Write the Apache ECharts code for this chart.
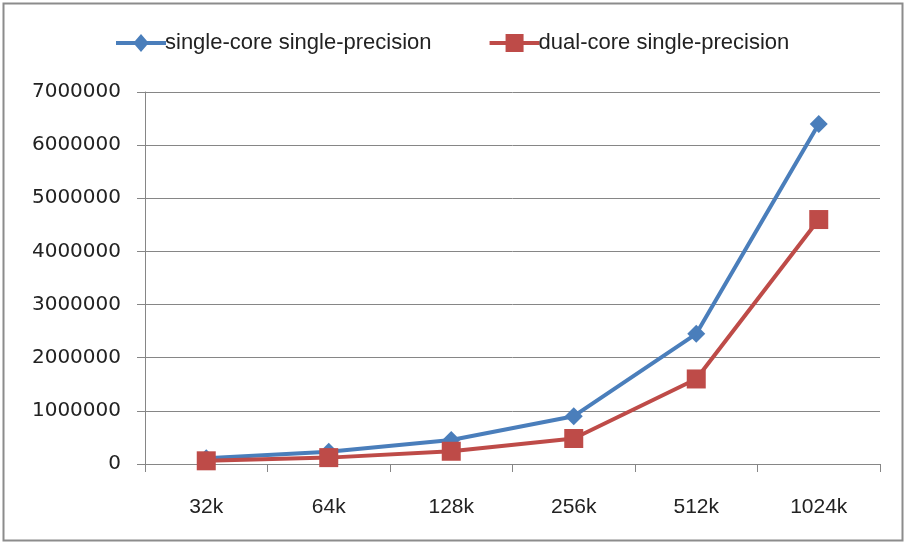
<!DOCTYPE html>
<html><head><meta charset="utf-8">
<script src="https://cdn.jsdelivr.net/npm/echarts@6/dist/echarts.min.js"></script>
<style>html,body{margin:0;padding:0;background:#fff}#c{width:906px;height:545px}</style>
</head><body><div id="c"></div>
<script>
const categories = ['32k','64k','128k','256k','512k','1024k'];
const singleCore = [110000, 230000, 450000, 900000, 2450000, 6400000];
const dualCore = [60000, 120000, 240000, 480000, 1600000, 4600000];
const seriesNames = ['single-core single-precision','dual-core single-precision'];

const chart = echarts.init(document.getElementById('c'));
const narrow = '"Liberation Sans Narrow","Liberation Sans",sans-serif';
const blue = '#4a7ebb', red = '#be4b48';
chart.setOption({
  animation:false,
  backgroundColor:'#fff',
  graphic:[{type:'rect',shape:{x:3.5,y:3.5,width:899,height:537},style:{fill:'none',stroke:'#8c8c8c',lineWidth:2}}],
  legend:{
    top:27, left:111, itemGap:58, itemWidth:50, itemHeight:18,
    textStyle:{fontFamily:narrow,fontSize:22,color:'#222',padding:[0,0,0,-6]},
    data:[
      {name:seriesNames[0],icon:'path://M0,7L19,7L25,0L31,7L50,7L50,11L31,11L25,18L19,11L0,11Z',itemStyle:{color:blue}},
      {name:seriesNames[1],icon:'path://M0,7L16,7L16,0L34,0L34,7L50,7L50,11L34,11L34,18L16,18L16,11L0,11Z',itemStyle:{color:red}}
    ]
  },
  grid:{left:145,right:26,top:92,bottom:81,containLabel:false},
  xAxis:{
    type:'category', data:categories, boundaryGap:true,
    axisLine:{lineStyle:{color:'#868686',width:1}},
    axisTick:{show:true,length:8,lineStyle:{color:'#868686'}},
    axisLabel:{fontFamily:narrow,fontSize:21,color:'#222',margin:33}
  },
  yAxis:{
    type:'value', min:0, max:7000000, interval:1000000,
    axisLine:{show:true,lineStyle:{color:'#868686',width:1}},
    axisTick:{show:true,length:8,lineStyle:{color:'#868686'}},
    splitLine:{lineStyle:{color:'#868686',width:1}},
    axisLabel:{fontFamily:'"DejaVu Sans",sans-serif',fontSize:20,color:'#222',margin:24,formatter:v=>String(v)}
  },
  series:[
    {name:seriesNames[0],type:'line',data:singleCore,symbol:'diamond',symbolSize:18,
     lineStyle:{width:4,color:blue},itemStyle:{color:blue}},
    {name:seriesNames[1],type:'line',data:dualCore,symbol:'rect',symbolSize:19,
     lineStyle:{width:4,color:red},itemStyle:{color:red}}
  ]
});
</script></body></html>
